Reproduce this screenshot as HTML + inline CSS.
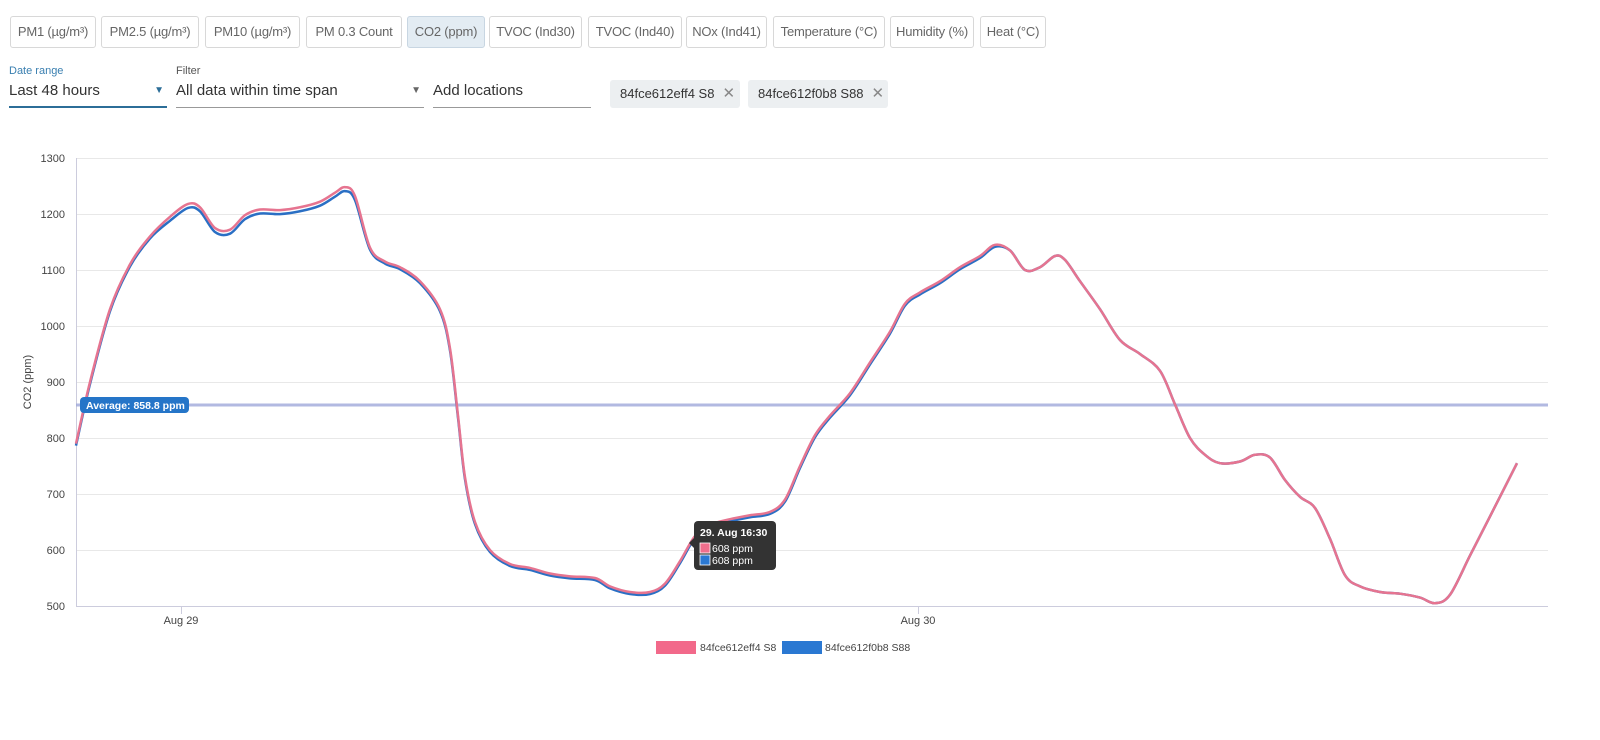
<!DOCTYPE html>
<html><head><meta charset="utf-8"><style>
body{margin:0;width:1600px;height:740px;background:#fff;font-family:"Liberation Sans",sans-serif;position:relative;overflow:hidden}
.b{position:absolute;top:16px;height:32px;border:1px solid #d8d8d8;border-radius:3px;box-sizing:border-box;font-size:13px;color:#666;line-height:30px;text-align:center;white-space:nowrap;letter-spacing:-0.2px}
.b.a{background:#e3ecf3;border-color:#c8d6e2}
.lbl{position:absolute;font-size:11px}
.sel{position:absolute;top:78px;height:30px;font-size:15px;color:#333;line-height:26px;box-sizing:border-box}
.chip{position:absolute;top:80px;height:28px;background:#eceff1;border-radius:3px;font-size:13px;color:#333;line-height:28px;padding-left:10px;box-sizing:border-box}
.chip span{color:#888;margin-left:8px;font-size:15px}
</style></head><body>
<div class="b" style="left:10px;width:86px">PM1 (µg/m³)</div>
<div class="b" style="left:101px;width:98px">PM2.5 (µg/m³)</div>
<div class="b" style="left:205px;width:95px">PM10 (µg/m³)</div>
<div class="b" style="left:306px;width:96px">PM 0.3 Count</div>
<div class="b a" style="left:407px;width:78px">CO2 (ppm)</div>
<div class="b" style="left:489px;width:93px">TVOC (Ind30)</div>
<div class="b" style="left:588px;width:94px">TVOC (Ind40)</div>
<div class="b" style="left:686px;width:81px">NOx (Ind41)</div>
<div class="b" style="left:773px;width:112px">Temperature (°C)</div>
<div class="b" style="left:890px;width:84px">Humidity (%)</div>
<div class="b" style="left:980px;width:66px">Heat (°C)</div>
<div class="lbl" style="left:9px;top:65px;color:#3a7fb0">Date range</div>
<div class="lbl" style="left:176px;top:65px;color:#555">Filter</div>
<div class="sel" style="left:9px;width:158px;border-bottom:2px solid #2c6e98">Last 48 hours<span style="position:absolute;right:3px;top:0;color:#2c6e98;font-size:10px">▼</span></div>
<div class="sel" style="left:176px;width:248px;border-bottom:1px solid #999">All data within time span<span style="position:absolute;right:3px;top:0;color:#666;font-size:10px">▼</span></div>
<div class="sel" style="left:433px;width:158px;border-bottom:1px solid #999">Add locations</div>
<div class="chip" style="left:610px;width:130px">84fce612eff4 S8<span>✕</span></div>
<div class="chip" style="left:748px;width:140px">84fce612f0b8 S88<span>✕</span></div>
<svg style="position:absolute;left:0;top:0" width="1600" height="740" font-family="Liberation Sans, sans-serif">
<g stroke="#e8e8e8" stroke-width="1" id="grid"></g>
<g font-size="11" fill="#444" text-anchor="end" id="yl"></g>
<line x1="76.5" y1="158" x2="76.5" y2="606" stroke="#ccd"/>
<line x1="76" y1="606.5" x2="1548" y2="606.5" stroke="#ccd"/>
<line x1="181.5" y1="606" x2="181.5" y2="614" stroke="#ccd"/>
<line x1="918.5" y1="606" x2="918.5" y2="614" stroke="#ccd"/>
<text x="181" y="624" font-size="11" fill="#444" text-anchor="middle">Aug 29</text>
<text x="918" y="624" font-size="11" fill="#444" text-anchor="middle">Aug 30</text>
<text transform="translate(31,382) rotate(-90)" font-size="11" fill="#444" text-anchor="middle">CO2 (ppm)</text>
<line x1="76" y1="405" x2="1548" y2="405" stroke="#9fa8da" stroke-width="3" opacity="0.8"/>
<path id="pb" fill="none" stroke="#2a6fc4" stroke-width="2.5"/>
<path id="pp" fill="none" stroke="#e67490" stroke-width="2.5"/>
<rect x="80" y="397" width="109" height="16" rx="4" fill="#2575c8"/>
<text x="86" y="409" font-size="10.5" font-weight="bold" fill="#fff">Average: 858.8 ppm</text>
<rect x="694" y="521" width="82" height="49" rx="4" fill="#333"/>
<path d="M694 538 l-5 5 5 5z" fill="#333"/>
<text x="700" y="536" font-size="10.5" font-weight="bold" fill="#fff">29. Aug  16:30</text>
<rect x="700" y="543" width="10" height="10" fill="#f06e8c" stroke="#fff" stroke-width="0.8"/>
<text x="712" y="552" font-size="10.5" fill="#fff">608 ppm</text>
<rect x="700" y="555" width="10" height="10" fill="#2a78d2" stroke="#fff" stroke-width="0.8"/>
<text x="712" y="564" font-size="10.5" fill="#fff">608 ppm</text>
<rect x="656" y="641" width="40" height="13" fill="#f2698a"/>
<text x="700" y="651" font-size="10.5" fill="#444">84fce612eff4 S8</text>
<rect x="782" y="641" width="40" height="13" fill="#2a78d2"/>
<text x="825" y="651" font-size="10.5" fill="#444">84fce612f0b8 S88</text>
</svg>
<script>
var g=document.getElementById('grid'),yl=document.getElementById('yl'),s='',t='';
function Y(v){return 606-(v-500)*0.56}
for(var v=500;v<=1300;v+=100){var y=Y(v);if(v>500)s+='<line x1="76" x2="1548" y1="'+(y+.5)+'" y2="'+(y+.5)+'"/>';t+='<text x="65" y="'+(y+4)+'">'+v+'</text>';}
g.innerHTML=s;yl.innerHTML=t;
var d=[[76,790],[90,900],[110,1030],[130,1110],[150,1160],[170,1195],[188,1218],[200,1212],[215,1175],[230,1172],[245,1198],[260,1208],[280,1207],[300,1212],[320,1222],[335,1238],[345,1248],[355,1232],[370,1140],[385,1115],[400,1105],[420,1080],[440,1030],[450,960],[458,840],[465,730],[475,650],[490,600],[510,575],[530,568],[550,558],[570,553],[595,550],[610,535],[630,525],[650,525],[665,540],[680,580],[695,625],[710,645],[730,655],[750,662],[770,668],[785,690],[800,750],[815,805],[830,840],[850,880],[870,935],[890,990],[905,1040],[920,1060],[940,1080],[960,1105],[980,1125],[995,1145],[1010,1135],[1025,1100],[1040,1105],[1055,1125],[1065,1118],[1080,1080],[1100,1030],[1120,975],[1140,950],[1160,920],[1175,860],[1190,800],[1205,770],[1220,755],[1240,758],[1255,770],[1270,765],[1285,725],[1300,695],[1315,675],[1330,620],[1345,555],[1360,535],[1380,525],[1400,522],[1420,515],[1435,505],[1450,520],[1470,590],[1490,660],[1517,755]];
function path(off){var p=d.map(function(a){var o=(a[0]>150&&a[0]<360)?off:(a[0]<1000?off/2:0);return[a[0],Y(a[1])+o]});
var r='M'+p[0][0]+' '+p[0][1];for(var i=0;i<p.length-1;i++){var p0=p[i-1]||p[i],p1=p[i],p2=p[i+1],p3=p[i+2]||p2;
r+=' C'+(p1[0]+(p2[0]-p0[0])/6)+' '+(p1[1]+(p2[1]-p0[1])/6)+' '+(p2[0]-(p3[0]-p1[0])/6)+' '+(p2[1]-(p3[1]-p1[1])/6)+' '+p2[0]+' '+p2[1];}return r;}
document.getElementById('pp').setAttribute('d',path(0));
document.getElementById('pb').setAttribute('d',path(4));
</script>
</body></html>
